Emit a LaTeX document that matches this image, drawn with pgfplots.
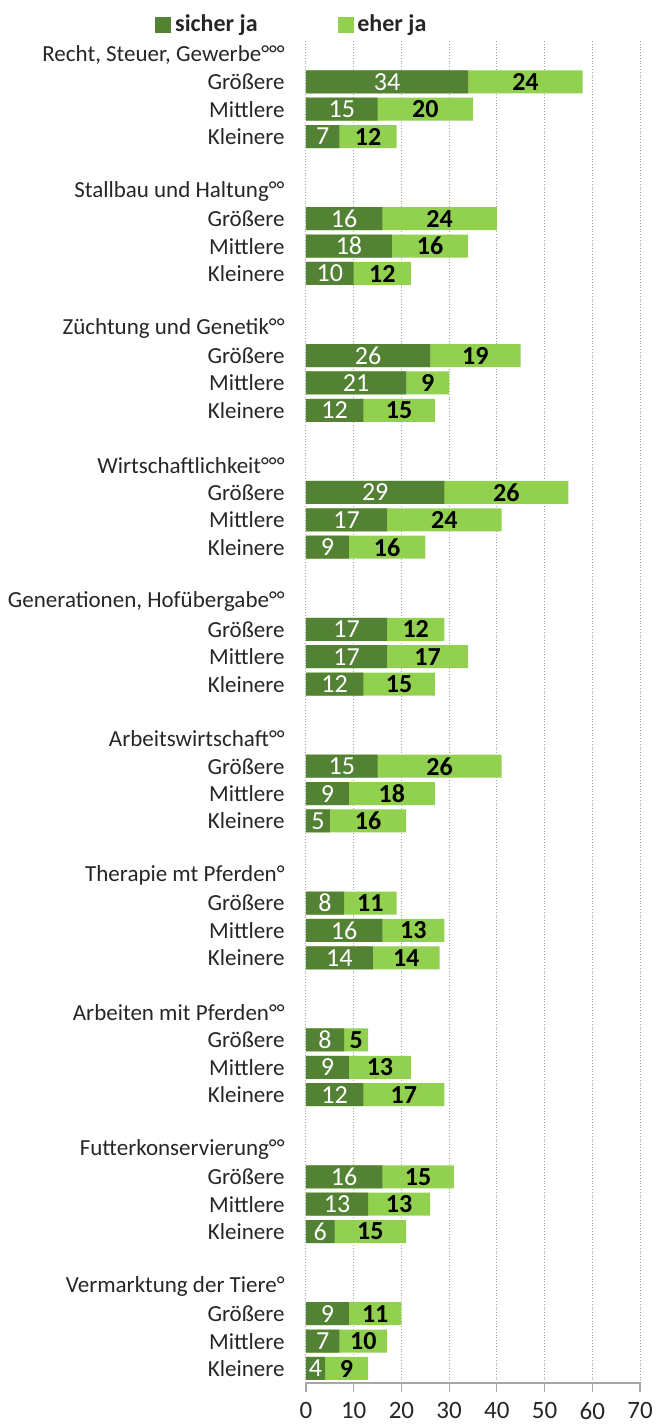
\documentclass[border=0pt]{standalone}
\usepackage{pgfplots}
\pgfplotsset{compat=1.18}
\usepackage{pgfplotstable}
\usepackage{fontspec}
\setmainfont{Carlito}
\definecolor{dkgreen}{HTML}{548235}
\definecolor{ltgreen}{HTML}{92D050}
\definecolor{txt}{HTML}{262626}
\definecolor{gridc}{HTML}{A6A6A6}
\pgfplotstableread{
y s e
47 34 24
46 15 20
45 7 12
42 16 24
41 18 16
40 10 12
37 26 19
36 21 9
35 12 15
32 29 26
31 17 24
30 9 16
27 17 12
26 17 17
25 12 15
22 15 26
21 9 18
20 5 16
17 8 11
16 16 13
15 14 14
12 8 5
11 9 13
10 12 17
7 16 15
6 13 13
5 6 15
2 9 11
1 7 10
0 4 9
}\data
\begin{document}
\begin{tikzpicture}
\begin{axis}[
  scale only axis,
  width=167pt, height=671.5pt,
  xmin=0, xmax=70, ymin=-0.53, ymax=48.53,
  xtick={0,10,...,70},
  ytick={0,...,48},
  yticklabels={
    Kleinere,{Mittlere\hspace{3pt}},Größere,{Vermarktung der Tiere°},{},
    Kleinere,{Mittlere\hspace{3pt}},Größere,{Futterkonservierung°°},{},
    Kleinere,{Mittlere\hspace{3pt}},Größere,{Arbeiten mit Pferden°°},{},
    Kleinere,{Mittlere\hspace{3pt}},Größere,{Therapie mt Pferden°},{},
    Kleinere,{Mittlere\hspace{3pt}},Größere,{Arbeitswirtschaft°°},{},
    Kleinere,{Mittlere\hspace{3pt}},Größere,{Generationen, Hofübergabe°°},{},
    Kleinere,{Mittlere\hspace{3pt}},Größere,{Wirtschaftlichkeit°°°},{},
    Kleinere,{Mittlere\hspace{3pt}},Größere,{Züchtung und Genetik°°},{},
    Kleinere,{Mittlere\hspace{3pt}},Größere,{Stallbau und Haltung°°},{},
    Kleinere,{Mittlere\hspace{3pt}},Größere,{Recht, Steuer, Gewerbe°°°}},
  axis x line*=bottom,
  axis y line*=left,
  y axis line style={draw=none},
  x axis line style={draw=gridc, line width=0.6pt},
  ytick style={draw=none},
  xtick style={draw=gridc, line width=0.6pt},
  tick align=outside,
  major tick length=4.5pt,
  xmajorgrids,
  major grid style={densely dotted, gridc, line width=0.5pt},
  /pgf/number format/assume math mode=true,
  xticklabel style={font=\fontsize{12.5}{14}\selectfont, text=txt, yshift=-4pt, inner sep=1pt},
  yticklabel style={font=\fontsize{11.5}{13}\selectfont, text=txt, inner sep=0pt},
  yticklabel shift=6pt,
  legend style={at={(-0.47,1.0112)}, anchor=west, draw=none, fill=none,
    legend columns=2, font=\bfseries\fontsize{12}{14}\selectfont, text=txt,
    /tikz/every even column/.append style={column sep=38pt},
    legend cell align=left},
  clip=false,
]
\addlegendimage{legend image code/.code={\fill[dkgreen] (0pt,-3.75pt) rectangle (7.5pt,3.75pt);}}
\addlegendentry{sicher ja}
\addlegendimage{legend image code/.code={\fill[ltgreen] (0pt,-3.75pt) rectangle (7.5pt,3.75pt);}}
\addlegendentry{eher ja}
\addplot[xbar, bar width=0.84, bar shift=0pt, fill=ltgreen, draw=none, forget plot]
  table[x expr=\thisrow{s}+\thisrow{e}, y=y] {\data};
\addplot[xbar, bar width=0.84, bar shift=0pt, fill=dkgreen, draw=none, forget plot]
  table[x=s, y=y] {\data};
\addplot[only marks, mark=*, mark size=0pt, draw=none, fill=none, forget plot,
  point meta=explicit, nodes near coords,
  every node near coord/.style={anchor=center, text=white, font=\fontsize{13}{15}\selectfont}]
  table[x expr=\thisrow{s}/2, y=y, meta=s] {\data};
\addplot[only marks, mark=*, mark size=0pt, draw=none, fill=none, forget plot,
  point meta=explicit, nodes near coords,
  every node near coord/.style={anchor=center, text=black, font=\bfseries\fontsize{13}{15}\selectfont}]
  table[x expr=\thisrow{s}+\thisrow{e}/2, y=y, meta=e] {\data};
\coordinate (sw) at (axis cs:0,-0.53);
\end{axis}
\pgfresetboundingbox
\path[use as bounding box] (sw) ++(-153pt,-22pt) rectangle ++(327.5pt,713.5pt);
\end{tikzpicture}
\end{document}
